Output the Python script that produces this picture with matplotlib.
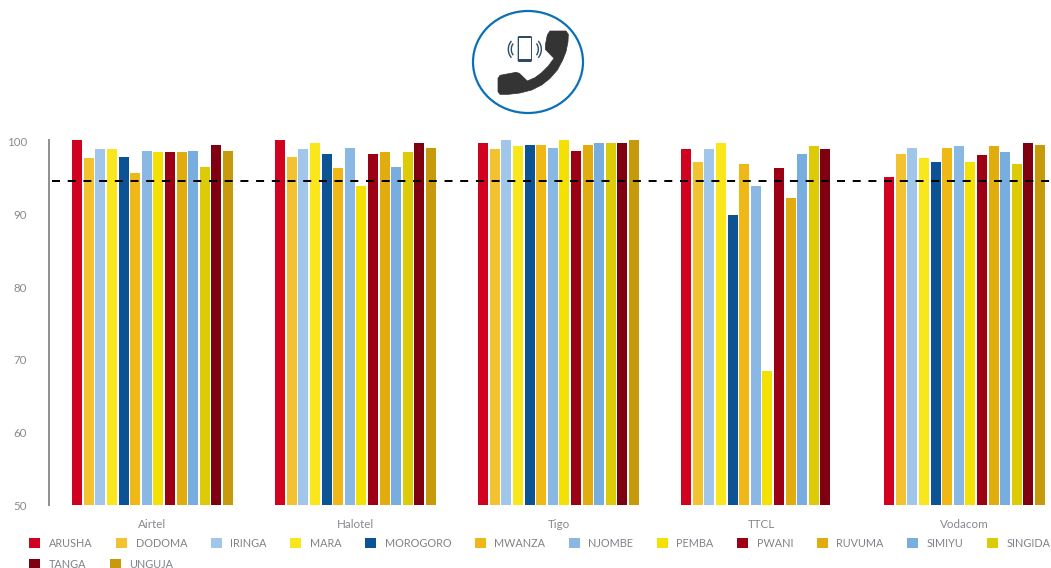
import numpy as np
import matplotlib
matplotlib.use("Agg")
import matplotlib.pyplot as plt
from matplotlib.patches import Ellipse, Polygon, Rectangle, Arc, FancyBboxPatch

plt.rcParams['font.family'] = ['Lato', 'DejaVu Sans']

operators = ["Airtel", "Halotel", "Tigo", "TTCL", "Vodacom"]
regions = ["ARUSHA", "DODOMA", "IRINGA", "MARA", "MOROGORO", "MWANZA", "NJOMBE",
           "PEMBA", "PWANI", "RUVUMA", "SIMIYU", "SINGIDA", "TANGA", "UNGUJA"]
colors = ["#D0021F", "#F2C230", "#A0C6EA", "#F9E71B", "#0B5394", "#F0B816", "#8AB8E5",
          "#F5E003", "#9B0014", "#E0AC0E", "#78ADE0", "#DCCB06", "#7F0010", "#C79A0C"]

airtel = [100.3, 97.8, 99.0, 99.0, 97.9, 95.7, 98.8, 98.6, 98.6, 98.6, 98.8, 96.6, 99.6, 98.8]
halotel = [100.3, 97.9, 99.0, 99.9, 98.4, 96.4, 99.2, 94.0, 98.4, 98.6, 96.6, 98.6, 99.9, 99.2]
tigo = [99.9, 99.0, 100.3, 99.5, 99.6, 99.6, 99.2, 100.3, 98.8, 99.6, 99.9, 99.9, 99.9, 100.3]
ttcl = [99.0, 97.3, 99.0, 99.9, 90.0, 97.0, 94.0, 68.4, 96.4, 92.3, 98.4, 99.5, 99.0, np.nan]
vodacom = [95.2, 98.4, 99.2, 97.8, 97.3, 99.2, 99.5, 97.3, 98.2, 99.5, 98.6, 97.0, 99.9, 99.6]
target = 94.6
yticks = [50, 60, 70, 80, 90, 100]

W, H = 1051, 568
fig = plt.figure(figsize=(W / 100, H / 100), dpi=100, facecolor="white")

AX_L, AX_R, AX_T, AX_B = 49, 1051, 140, 505
ax = fig.add_axes([AX_L / W, 1 - AX_B / H, (AX_R - AX_L) / W, (AX_B - AX_T) / H])

BAND = 203.0
CENTER0 = 152.5
table = np.array([airtel, halotel, tigo, ttcl, vodacom])
pos = np.arange(len(operators))
pitch = 11.6 / BAND
handles = []
for i, (name, col) in enumerate(zip(regions, colors)):
    b = ax.bar(pos + (i - 6.5) * pitch, table[:, i], width=10.0 / BAND,
               color=col, label=name, linewidth=0)
    handles.append(b)

ax.set_xlim((AX_L - CENTER0) / BAND, (AX_R - CENTER0) / BAND)
ax.set_ylim(50, 100 + 2 / 7.26)
ax.axhline(target, xmin=3 / (AX_R - AX_L), color="black", lw=1.44,
           dashes=(4.0, 3.85), dash_capstyle="butt", zorder=5)

ax.set_xticks(pos, operators)
ax.set_yticks(yticks)
ax.tick_params(axis="x", length=0, pad=10, labelsize=8.4, labelcolor="#85898f")
ax.tick_params(axis="y", length=0, pad=16, labelsize=8.3, labelcolor="#8a8a8a")
for s in ("top", "right", "bottom"):
    ax.spines[s].set_visible(False)
ax.spines["left"].set_color("#8c8f91")
ax.spines["left"].set_linewidth(1.4)


def legend_row(items, labels, y_px):
    fig.legend(items, labels, loc="center left", bbox_to_anchor=(29.4 / W, 1 - y_px / H),
               ncol=len(items), frameon=False, fontsize=7.85, labelcolor="#7f8389",
               handlelength=1.0, handleheight=0.97, handletextpad=0.8,
               columnspacing=2.15, borderpad=0, borderaxespad=0)


legend_row(handles[:12], regions[:12], 543.5)
legend_row(handles[12:], regions[12:], 564)

# Icon overlay, in pixel coordinates
ov = fig.add_axes([0, 0, 1, 1], facecolor="none")
ov.set_xlim(0, W)
ov.set_ylim(H, 0)
ov.axis("off")
ov.add_patch(Ellipse((528, 62), 110, 102, fc="white", ec="#0A70B8", lw=1.6))


def z(x, y):
    return (440 + x / 3, y / 3)


handset = [(330, 93), (378, 93), (385, 103), (384, 125), (378, 155), (368, 180), (352, 210),
           (330, 235), (305, 255), (275, 270), (240, 279), (205, 283), (180, 283), (174, 275),
           (174, 235), (180, 226), (228, 217), (238, 220), (262, 243), (285, 233), (305, 218),
           (325, 198), (342, 175), (316, 148), (316, 135), (322, 105)]
ov.add_patch(Polygon([z(*p) for p in handset], closed=True, fc="#343434", ec="#343434",
                     lw=0.5, joinstyle="round"))

ov.add_patch(FancyBboxPatch(z(233, 108), 14.3, 26, boxstyle="round,pad=0,rounding_size=1.5",
                            fc="#2F4A66", ec="none"))
ov.add_patch(Rectangle(z(238, 115), 11.2, 20.5, fc="white", ec="none"))
for r in (5, 8):
    ov.add_patch(Arc(z(232, 148), 2 * r + 2, 2 * r + 6, theta1=125, theta2=235, color="#2F4A66", lw=1))
    ov.add_patch(Arc(z(277, 148), 2 * r + 2, 2 * r + 6, theta1=-55, theta2=55, color="#2F4A66", lw=1))

fig.savefig("out.png", dpi=100, facecolor="white")
